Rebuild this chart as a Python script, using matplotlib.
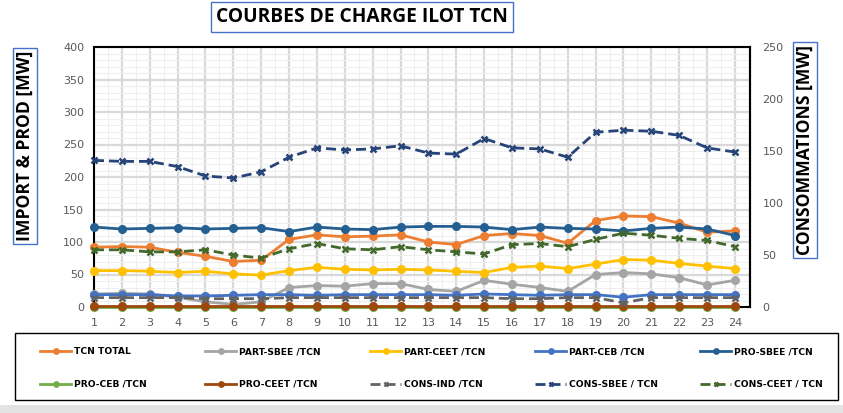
import numpy as np
import matplotlib.pyplot as plt
from matplotlib.patches import Rectangle

# hours of the day
hours = list(range(1, 25))

# import & production series (left axis, MW)
tcn_total = [92, 93, 92, 84, 78, 70, 72, 104, 111, 108, 109, 111, 100, 96, 110, 113, 110, 98, 133, 140, 139, 129, 115, 117]
part_sbee = [20, 21, 20, 15, 8, 4, 8, 30, 33, 32, 36, 36, 27, 24, 41, 35, 30, 24, 50, 53, 51, 45, 34, 41]
part_ceet = [56, 56, 55, 53, 55, 51, 49, 56, 61, 58, 57, 58, 57, 55, 53, 61, 63, 59, 66, 73, 72, 67, 63, 59]
part_ceb = [19, 19, 19, 17, 17, 18, 19, 19, 18, 19, 19, 19, 19, 18, 20, 19, 18, 19, 19, 15, 19, 19, 19, 19]
pro_sbee = [123, 120, 121, 122, 120, 121, 122, 116, 123, 120, 119, 123, 124, 124, 123, 119, 123, 121, 120, 117, 121, 123, 120, 110]
pro_ceb = [0, 0, 0, 0, 0, 0, 0, 0, 0, 0, 0, 0, 0, 0, 0, 0, 0, 0, 0, 0, 0, 0, 0, 0]
pro_ceet = [1, 1, 1, 1, 1, 1, 1, 1, 1, 1, 1, 1, 1, 1, 1, 1, 1, 1, 1, 1, 1, 1, 1, 1]

# consumption series (right axis, MW)
cons_ind = [9, 9, 9, 9, 8, 8, 8, 9, 9, 9, 9, 9, 9, 9, 9, 8, 8, 9, 9, 4, 9, 9, 9, 9]
cons_sbee = [141, 140, 140, 135, 126, 124, 130, 144, 153, 151, 152, 155, 148, 147, 162, 153, 152, 144, 168, 170, 169, 165, 153, 149]
cons_ceet = [55, 55, 53, 53, 55, 50, 47, 56, 61, 56, 55, 58, 55, 53, 51, 60, 61, 58, 65, 71, 69, 66, 64, 58]

left_series = [
    ("TCN TOTAL", tcn_total, "#ED7D31"),
    ("PART-SBEE /TCN", part_sbee, "#A5A5A5"),
    ("PART-CEET /TCN", part_ceet, "#FFC000"),
    ("PART-CEB /TCN", part_ceb, "#4472C4"),
    ("PRO-SBEE /TCN", pro_sbee, "#255E91"),
    ("PRO-CEB /TCN", pro_ceb, "#70AD47"),
    ("PRO-CEET /TCN", pro_ceet, "#9E480E"),
]
right_series = [
    ("CONS-IND /TCN", cons_ind, "#636363"),
    ("CONS-SBEE / TCN", cons_sbee, "#264478"),
    ("CONS-CEET / TCN", cons_ceet, "#43682B"),
]

fig = plt.figure(figsize=(8.43, 4.13), dpi=100)
ax = fig.add_axes([94 / 843, 1 - 307 / 413, (750 - 94) / 843, (307 - 47) / 413])
ax2 = ax.twinx()

handles = []
for name, vals, col in left_series:
    h, = ax.plot(hours, vals, color=col, lw=2, marker="o", ms=5.5,
                 mfc=col, mec=col, label=name, zorder=3, clip_on=False)
    handles.append(h)
for name, vals, col in right_series:
    h, = ax2.plot(hours, vals, color=col, lw=2, ls=(0, (3.6, 1.8)), marker="x", ms=5,
                  mew=1.8, mec=col, label=name, zorder=3, clip_on=False)
    handles.append(h)

ax.set_xlim(1, 24.54)
ax.set_ylim(0, 400)
ax2.set_ylim(0, 250)
ax.set_xticks(hours)
ax.set_xticks(np.arange(1.5, 24.6, 1), minor=True)
ax.set_yticks(range(0, 401, 50))
ax.set_yticks(range(0, 401, 10), minor=True)
ax2.set_yticks(range(0, 251, 50))

ax.grid(which="major", color="#D9D9D9", lw=1.6, zorder=0)
ax.grid(which="minor", color="#EFEFEF", lw=0.8, zorder=0)
ax.set_axisbelow(True)

for a in (ax, ax2):
    a.tick_params(which="both", length=0, labelsize=8, labelcolor="#595959")
    for s in a.spines.values():
        s.set_color("black")
        s.set_linewidth(1.5)
# keep only the right spine on the twin so the bottom series stay visible
for side in ("left", "bottom", "top"):
    ax2.spines[side].set_visible(False)
ax.tick_params(axis="x", pad=8)
ax.tick_params(axis="y", pad=7)
ax2.tick_params(axis="y", pad=9)

# title and axis titles in boxes
box = dict(boxstyle="square,pad=0.25", fc="white", ec="#4472C4", lw=1)
fig.text(362 / 843, 1 - 17 / 413, "COURBES DE CHARGE ILOT TCN", ha="center", va="center",
         fontsize=13.8, fontweight="bold", family="Open Sans", bbox=box)
fig.text(25 / 843, 1 - 146 / 413, "IMPORT & PROD [MW]", ha="center", va="center", rotation=90,
         fontsize=12.6, fontweight="bold", family="Open Sans",
         bbox=dict(box, boxstyle="square,pad=0.15"))
fig.text(805 / 843, 1 - 150 / 413, "CONSOMMATIONS [MW]", ha="center", va="center", rotation=90,
         fontsize=12.6, fontweight="bold", family="Open Sans",
         bbox=dict(box, boxstyle="square,pad=0.15"))

# legend: box plus one small legend per column (Excel fills row by row)
fig.patches.append(Rectangle((15 / 843, 1 - 400 / 413), 823 / 843, 67 / 413,
                             transform=fig.transFigure, fc="none", ec="black", lw=1))
col_x = [40, 205, 370, 535, 700]
for c in range(5):
    pair = [handles[c], handles[c + 5]]
    leg = fig.legend(pair, [h.get_label() for h in pair], loc="center left",
                     bbox_to_anchor=(col_x[c] / 843, 1 - 368 / 413), frameon=False,
                     prop=dict(family="Liberation Sans Narrow", weight="bold", size=6.6),
                     handlelength=3.4, handletextpad=0.35, labelspacing=2.6,
                     borderpad=0, borderaxespad=0, markerscale=0.7)

fig.patches.append(Rectangle((0, 0), 1, 8 / 413, transform=fig.transFigure,
                             fc="#E3E3E3", ec="none"))

fig.savefig("out.png", dpi=100)
